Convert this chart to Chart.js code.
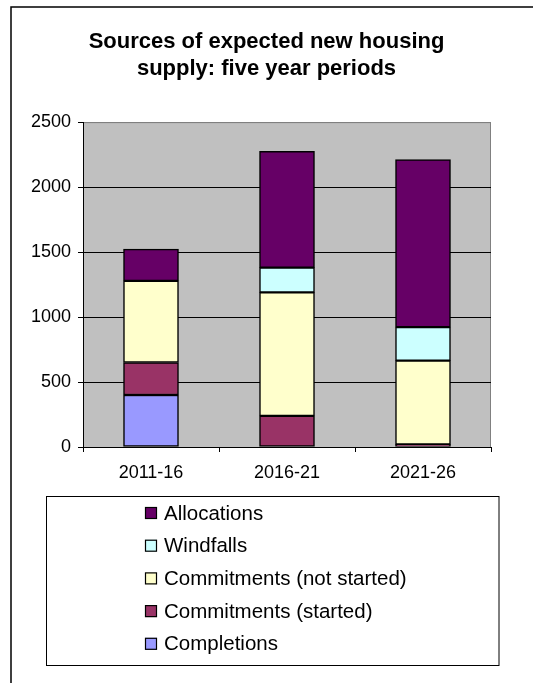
<!DOCTYPE html>
<html>
<head>
<meta charset="utf-8">
<script src="https://cdn.jsdelivr.net/npm/chart.js@4.4.1/dist/chart.umd.min.js"></script>
<style>
html,body{margin:0;padding:0;background:#fff;}
#wrap{position:relative;width:533px;height:683px;}
</style>
</head>
<body>
<div id="wrap"><canvas id="c" width="533" height="683"></canvas></div>
<script>
// ---- data ----
const categories = ['2011-16', '2016-21', '2021-26'];
const completions = [400, 0, 0];
const commitmentsStarted = [250, 240, 20];
const commitmentsNotStarted = [628, 950, 645];
const windfalls = [0, 190, 258];
const allocations = [245, 895, 1288];
const yTicks = [0, 500, 1000, 1500, 2000, 2500];
const seriesNames = ['Completions', 'Commitments (started)', 'Commitments (not started)', 'Windfalls', 'Allocations'];
const seriesColors = ['#9999FF', '#993366', '#FFFFCC', '#CCFFFF', '#660066'];
const titleLines = ['Sources of expected new housing', 'supply: five year periods'];

const seriesData = [completions, commitmentsStarted, commitmentsNotStarted, windfalls, allocations];
const FONT = '"Liberation Sans", Arial, sans-serif';

const framePlugin = {
  id: 'frame',
  beforeDraw(chart) {
    const ctx = chart.ctx, a = chart.chartArea;
    ctx.save();
    ctx.fillStyle = '#fff';
    ctx.fillRect(0, 0, chart.width, chart.height);
    ctx.strokeStyle = '#000';
    ctx.lineWidth = 1.5;
    ctx.strokeRect(11, 7, 600, 800);
    ctx.fillStyle = '#C0C0C0';
    ctx.fillRect(a.left, a.top, a.right - a.left, a.bottom - a.top);
    ctx.strokeStyle = '#808080';
    ctx.lineWidth = 1;
    ctx.beginPath();
    ctx.moveTo(a.left, a.top + 0.5);
    ctx.lineTo(a.right - 0.5, a.top + 0.5);
    ctx.lineTo(a.right - 0.5, a.bottom);
    ctx.stroke();
    ctx.restore();
  },
  afterDraw(chart) {
    const ctx = chart.ctx;
    ctx.save();
    // legend box
    ctx.strokeStyle = '#000';
    ctx.lineWidth = 1;
    ctx.strokeRect(46.5, 496.5, 452.5, 169);
    const ds = chart.data.datasets;
    ctx.font = '20.5px ' + FONT;
    ctx.textBaseline = 'middle';
    ctx.textAlign = 'left';
    for (let i = 0; i < ds.length; i++) {
      const d = ds[ds.length - 1 - i];
      const cy = 513 + i * 32.7;
      ctx.fillStyle = d.backgroundColor;
      ctx.fillRect(145, cy - 6, 12, 12);
      ctx.strokeStyle = '#000';
      ctx.lineWidth = 1.2;
      ctx.strokeRect(145.5, cy - 5.5, 11, 11);
      ctx.fillStyle = '#000';
      ctx.fillText(d.label, 164, cy + 1);
    }
    ctx.restore();
  }
};

new Chart(document.getElementById('c'), {
  type: 'bar',
  data: {
    labels: categories,
    datasets: seriesData.map((d, i) => ({
      label: seriesNames[i],
      data: d,
      backgroundColor: seriesColors[i],
      borderColor: '#000',
      borderWidth: 1.5,
      borderSkipped: false,
      barThickness: 55
    }))
  },
  options: {
    responsive: false,
    animation: false,
    events: [],
    layout: { padding: { left: 0, right: 0, top: 0, bottom: 196 } },
    plugins: {
      legend: { display: false },
      tooltip: { enabled: false },
      title: {
        display: true,
        text: titleLines,
        color: '#000',
        font: { family: FONT, size: 22, weight: 'bold', lineHeight: 1.23 },
        padding: { top: 28, bottom: 40 }
      }
    },
    scales: {
      x: {
        stacked: true,
        afterFit(s) { s.height = 40; },
        grid: { display: true, offset: true, drawOnChartArea: false, color: '#000', tickLength: 5 },
        border: { display: true, color: '#000', width: 1 },
        ticks: { color: '#000', font: { family: FONT, size: 18 }, padding: 10 }
      },
      y: {
        stacked: true,
        min: 0,
        max: 2500,
        afterFit(s) { s.width = 83; },
        afterBuildTicks(s) { s.ticks = yTicks.map(v => ({ value: v })); },
        grid: {
          color: (c) => (c.tick && c.tick.value === 2500) ? '#808080' : '#000',
          tickColor: '#000',
          tickLength: 5,
          lineWidth: 1
        },
        border: { display: true, color: '#000', width: 1 },
        ticks: { color: '#000', font: { family: FONT, size: 18 }, padding: 7, callback: (v) => String(v) }
      },
      yRight: {
        position: 'right',
        min: 0,
        max: 2500,
        afterFit(s) { s.width = 42; },
        grid: { display: false, drawTicks: false },
        border: { display: false },
        ticks: { display: false }
      }
    }
  },
  plugins: [framePlugin]
});
</script>
</body>
</html>
